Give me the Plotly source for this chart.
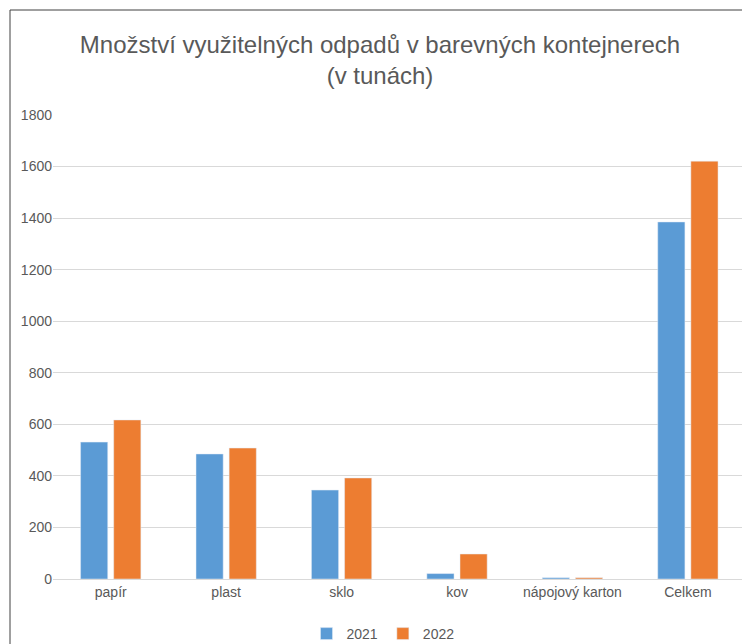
import plotly.graph_objects as go

categories = ["papír", "plast", "sklo", "kov", "nápojový karton", "Celkem"]
values_2021 = [531, 485, 345, 21, 5, 1385]
values_2022 = [617, 508, 392, 97, 5, 1621]
y_ticks = [0, 200, 400, 600, 800, 1000, 1200, 1400, 1600, 1800]

FONT = "Liberation Sans"
GRAY = "#595959"

fig = go.Figure()
fig.add_trace(go.Bar(name="2021", x=categories, y=values_2021, marker_color="#5B9BD5"))
fig.add_trace(go.Bar(name="2022", x=categories, y=values_2022, marker_color="#ED7D31"))

L, T, B = 53, 115, 65
W, H = 742, 644
pw = W - L
ph = H - T - B

def px(x):
    return (x - L) / pw

def py(y):
    return (H - B - y) / ph

fig.update_layout(
    width=W, height=H,
    margin=dict(l=L, r=0, t=T, b=B),
    paper_bgcolor="white", plot_bgcolor="white",
    barmode="group", bargap=0.426, bargroupgap=0.18,
    title=dict(
        text="Množství využitelných odpadů v barevných kontejnerech<br>(v tunách)",
        x=380 / W, xanchor="center", xref="container",
        y=1 - 53 / H, yanchor="top", yref="container",
        font=dict(family=FONT, size=24, color=GRAY),
    ),
    font=dict(family=FONT, size=14, color=GRAY),
    xaxis=dict(
        range=[-0.5, 5.5 - 3.6 / 115.2],
        showgrid=False, showline=True, linecolor="#D9D9D9", linewidth=1,
        tickfont=dict(family=FONT, size=14, color=GRAY), ticks="",
    ),
    yaxis=dict(
        range=[0, 1800], tickvals=y_ticks, showgrid=True, gridcolor="#D9D9D9",
        zeroline=False, ticks="", tickfont=dict(family=FONT, size=14, color=GRAY),
    ),
    legend=dict(
        orientation="h", x=383 / W, xanchor="center", xref="container",
        y=1 - 634 / H, yanchor="middle", yref="container",
        font=dict(family=FONT, size=14, color=GRAY),
        itemwidth=30, tracegroupgap=0,
    ),
    showlegend=True,
    shapes=[
        dict(type="line", xref="paper", yref="paper", x0=px(10), x1=px(10), y0=py(10), y1=py(H + 5),
             line=dict(color="#404040", width=1)),
        dict(type="line", xref="paper", yref="paper", x0=px(10), x1=px(W + 5), y0=py(10), y1=py(10),
             line=dict(color="#404040", width=1)),
    ],
)

fig.write_html("out.html", config={"displayModeBar": False},
               post_script="document.body.style.margin='0';document.body.style.overflow='hidden';")
